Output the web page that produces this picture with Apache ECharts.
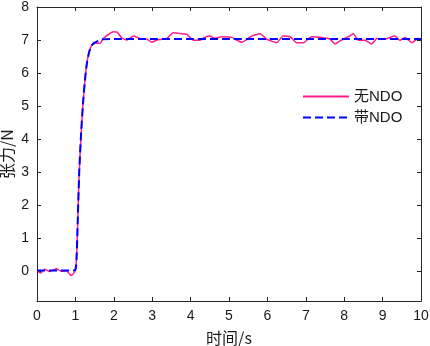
<!DOCTYPE html>
<html>
<head>
<meta charset="utf-8">
<script src="https://cdn.jsdelivr.net/npm/echarts@6/dist/echarts.min.js"></script>
<style>
  html, body { margin: 0; padding: 0; background: #fff; }
  #chart { width: 430px; height: 346px; }
</style>
</head>
<body>
<div id="chart"></div>
<script>
// 无NDO (noisy) trace
const rawTime = [0, 0.1, 0.2, 0.33, 0.5, 0.63, 0.77, 0.86, 0.9, 0.98, 1.0, 1.03, 1.06, 1.1, 1.15, 1.2, 1.25, 1.3, 1.35, 1.4, 1.45, 1.51, 1.64, 1.73, 1.99, 2.09, 2.2, 2.34, 2.51, 2.68, 2.86, 2.99, 3.12, 3.38, 3.55, 3.77, 3.9, 4.07, 4.24, 4.37, 4.5, 4.64, 4.81, 5.07, 5.33, 5.59, 5.81, 5.98, 6.24, 6.41, 6.59, 6.76, 6.94, 7.15, 7.41, 7.63, 7.76, 7.93, 8.11, 8.24, 8.37, 8.54, 8.72, 8.85, 9.06, 9.32, 9.45, 9.58, 9.76, 9.93, 10]
const rawValues = [0.0, -0.05, 0.06, -0.01, 0.08, 0.0, 0.01, -0.1, -0.12, -0.02, 0.05, 0.4, 1.5, 3.0, 4.2, 5.1, 5.8, 6.3, 6.6, 6.78, 6.87, 6.9, 6.9, 7.05, 7.25, 7.24, 7.07, 7.0, 7.12, 7.05, 7.03, 6.93, 7.0, 7.05, 7.22, 7.19, 7.17, 7.0, 6.99, 7.08, 7.12, 7.05, 7.1, 7.08, 6.93, 7.12, 7.19, 7.03, 6.92, 7.12, 7.1, 6.92, 6.92, 7.1, 7.08, 7.03, 6.88, 7.0, 7.1, 7.19, 6.99, 6.99, 6.88, 7.05, 7.03, 7.12, 6.99, 7.08, 6.92, 7.05, 7.02]

// 带NDO trace
const ndoTime = [0, 0.3, 0.6, 0.93, 1.0, 1.03, 1.06, 1.1, 1.15, 1.2, 1.25, 1.3, 1.35, 1.4, 1.45, 1.5, 1.6, 1.7, 2.0, 3.0, 4.0, 5.0, 6.0, 7.0, 8.0, 9.0, 10]
const ndoValues = [0.02, 0.02, 0.02, 0.02, 0.05, 0.4, 1.5, 3.0, 4.2, 5.1, 5.8, 6.3, 6.6, 6.78, 6.87, 6.92, 6.98, 7.02, 7.03, 7.03, 7.03, 7.03, 7.03, 7.03, 7.03, 7.03, 7.03]

const seriesNames = ['无NDO', '带NDO']
const xTickValues = [0, 1, 2, 3, 4, 5, 6, 7, 8, 9, 10]
const yTickValues = [0, 1, 2, 3, 4, 5, 6, 7, 8]
const xRange = { min: 0, max: 10 }
const yRange = { min: -0.9, max: 8 }

const axisColor = '#262626'
const textColor = '#1a1a1a'
const fontFamily = '"Liberation Sans", Arial, "Noto Sans CJK SC", sans-serif'
const cjkFont = '"Noto Sans CJK SC", sans-serif'

const chart = echarts.init(document.getElementById('chart'), null, { renderer: 'canvas' })

function axisCommon(ticks, showLabel) {
  return {
    axisLine: { show: true, onZero: false, lineStyle: { color: axisColor, width: 1 } },
    axisTick: { show: true, inside: true, length: 4, customValues: ticks, lineStyle: { color: axisColor } },
    axisLabel: showLabel
      ? { show: true, fontSize: 14, color: textColor, customValues: ticks }
      : { show: false },
    splitLine: { show: false },
  }
}

chart.setOption({
  animation: false,
  backgroundColor: '#fff',
  textStyle: { fontFamily },
  grid: { left: 37, right: 9, top: 7, bottom: 45, outerBoundsMode: 'none', containLabel: false },
  legend: {
    data: seriesNames,
    left: 297,
    top: 84,
    orient: 'vertical',
    itemWidth: 46,
    itemHeight: 14,
    itemGap: 6,
    itemStyle: { opacity: 0 },
    textStyle: { fontSize: 15, color: textColor, fontFamily },
  },
  xAxis: [
    {
      type: 'value',
      ...xRange,
      name: '时间/s',
      nameLocation: 'middle',
      nameGap: 29,
      nameMoveOverlap: false,
      nameTextStyle: { fontSize: 16, color: textColor, fontFamily: cjkFont },
      ...axisCommon(xTickValues, true),
    },
    { type: 'value', position: 'top', ...xRange, ...axisCommon(xTickValues, false) },
  ],
  yAxis: [
    {
      type: 'value',
      ...yRange,
      name: '张力/N',
      nameLocation: 'middle',
      nameGap: 22,
      nameMoveOverlap: false,
      nameRotate: 90,
      nameTextStyle: { fontSize: 16, color: textColor, fontFamily: cjkFont },
      ...axisCommon(yTickValues, true),
    },
    { type: 'value', position: 'right', ...yRange, ...axisCommon(yTickValues, false) },
  ],
  series: [
    {
      name: seriesNames[0],
      type: 'line',
      symbol: 'none',
      smooth: 0.15,
      data: rawTime.map((t, i) => [t, rawValues[i]]),
      lineStyle: { color: '#ff1a8c', width: 1.5 },
      itemStyle: { color: '#ff1a8c' },
    },
    {
      name: seriesNames[1],
      type: 'line',
      symbol: 'none',
      smooth: 0.3,
      data: ndoTime.map((t, i) => [t, ndoValues[i]]),
      lineStyle: { color: '#0000ff', width: 2, type: [8, 4] },
      itemStyle: { color: '#0000ff' },
    },
  ],
})
</script>
</body>
</html>
